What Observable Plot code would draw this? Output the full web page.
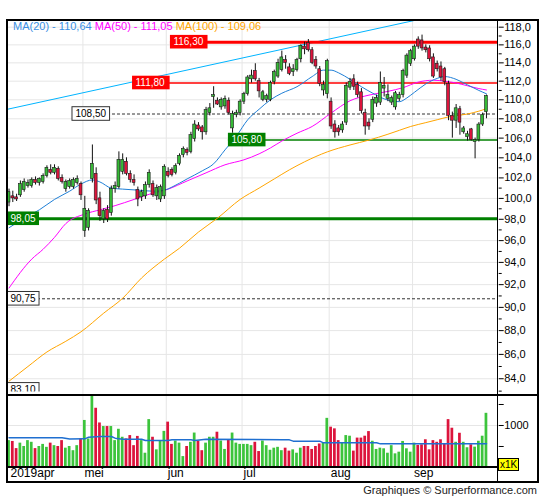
<!DOCTYPE html>
<html>
<head>
<meta charset="utf-8">
<script src="https://cdn.jsdelivr.net/npm/d3@7"></script>
<script src="https://cdn.jsdelivr.net/npm/@observablehq/plot@0.6"></script>
<style>
  body { margin: 0; background: #fff; }
  #wrap { position: relative; width: 545px; height: 500px; font-family: "Liberation Sans", Arial, sans-serif; color: #000; }
  #wrap svg { position: absolute; left: 0; }
  .ln { position: absolute; background: #000; }
  #legend { position: absolute; left: 13px; top: 20px; font-size: 11px; white-space: pre; }
  #caption { position: absolute; right: 8px; top: 484px; font-size: 11px; color: #222; }
  #x1k { position: absolute; left: 498px; top: 457.5px; width: 19px; height: 11.5px; background: #ffff00; border: 1px solid #000; font-size: 10px; line-height: 11.5px; text-align: center; }
</style>
</head>
<body>
<div id="wrap"></div>
<script>
// ---------- DATA ----------
const open = [99.6,100.2,100.1,100.3,100.8,101.2,101.2,101.8,101.5,101.6,102.2,102.8,102.5,102.9,102.0,100.9,101.1,101.1,101.5,101.4,
  96.9,97.2,101.9,102.4,100.0,98.0,98.9,98.6,100.9,101.1,102.6,103.6,102.4,101.8,100.8,100.1,100.2,101.3,101.4,100.2,99.9,100.2,
  102.6,102.8,102.5,103.4,104.3,104.8,104.6,105.9,107.3,107.1,106.6,108.6,110.3,109.9,109.2,109.3,109.9,107.0,108.4,108.6,
  109.8,110.6,112.2,113.1,112.0,110.0,110.0,110.0,111.9,112.5,113.2,114.3,113.5,113.0,113.2,114.4,115.8,116.2,115.4,114.3,113.3,111.0,110.6,
  109.8,107.4,107.0,106.8,107.6,111.3,112.2,111.6,110.8,108.6,107.6,107.9,109.6,109.7,111.2,110.1,109.7,109.2,110.1,110.5,112.6,113.9,
  114.4,116.6,116.5,115.7,115.6,114.6,113.9,113.6,113.3,111.7,108.3,107.8,109.0,106.6,106.1,106.9,105.6,105.8,107.4,108.7];
const high = [100.9,100.7,100.4,101.7,101.9,101.8,102.0,102.1,102.0,102.4,103.2,103.3,103.3,103.1,102.3,101.8,101.9,102.0,102.2,101.6,
  100.2,99.0,105.3,103.0,100.6,99.0,99.3,101.2,101.6,104.6,104.4,104.0,102.7,102.3,101.1,100.8,101.6,102.8,101.7,101.3,101.3,103.3,
  103.0,103.0,103.4,104.4,105.1,105.0,106.6,107.8,107.6,107.3,109.2,109.6,111.4,110.2,110.2,110.4,110.2,108.8,108.9,110.0,
  110.8,112.6,113.2,113.9,112.3,111.0,110.6,112.0,113.2,114.4,115.3,114.8,113.9,113.8,114.5,116.0,116.3,116.6,115.7,114.7,113.6,112.0,114.4,
  110.2,107.8,107.3,107.7,111.8,112.3,112.7,111.9,111.2,109.0,108.0,110.3,110.5,113.0,112.4,111.6,110.4,110.9,110.8,113.3,115.0,115.5,
  116.0,116.9,117.1,116.0,115.9,115.0,114.2,114.1,113.5,112.0,108.7,109.5,109.3,107.2,106.7,107.0,106.0,107.6,108.6,110.5];
const low = [99.2,99.6,99.7,100.1,100.6,101.0,101.0,101.3,101.2,101.4,102.0,102.3,102.3,101.7,101.4,100.6,100.9,100.9,101.3,99.8,
  96.3,96.9,101.5,99.4,97.8,97.6,97.7,98.3,100.5,100.9,102.3,102.2,101.5,101.2,99.2,99.7,99.9,101.0,100.1,99.8,99.6,99.9,
  102.0,102.1,102.3,103.2,104.0,104.2,104.4,105.6,106.7,105.8,106.3,108.3,109.1,109.4,108.9,109.0,108.4,106.5,108.1,108.3,
  109.5,110.4,111.8,112.0,110.2,109.8,109.7,109.8,111.6,112.3,113.0,113.3,112.6,112.5,113.0,114.0,114.9,115.2,113.8,113.3,111.4,110.4,110.1,
  106.9,106.0,106.2,106.5,107.3,111.0,111.0,110.2,108.5,106.3,106.8,107.6,109.2,109.4,110.3,109.8,109.4,108.9,109.8,110.2,112.3,113.6,
  114.2,115.5,115.3,115.1,114.1,112.3,113.0,112.0,111.5,107.8,106.0,107.0,106.3,106.4,105.7,105.7,103.9,105.6,107.2,108.0];
const close = [100.6,100.0,99.9,101.4,101.6,101.5,101.8,101.5,101.9,102.2,103.0,102.5,103.0,101.9,101.6,101.6,101.7,101.8,101.9,100.3,
  99.0,98.8,103.4,99.8,98.3,98.8,98.0,100.9,101.2,103.8,103.8,102.4,101.8,101.5,99.9,100.6,101.3,102.5,100.3,101.0,101.1,103.1,
  102.2,102.3,103.2,104.2,104.9,104.5,106.3,107.4,106.9,106.6,108.9,109.1,110.5,109.5,110.0,110.1,108.6,108.5,108.6,109.8,
  110.6,112.4,112.6,112.2,110.9,110.8,110.4,111.8,113.0,114.0,114.6,114.0,112.8,113.3,114.3,115.9,115.5,115.4,114.0,113.6,111.7,111.6,114.2,
  107.2,106.6,106.6,107.4,111.5,111.9,111.4,110.5,108.8,107.2,107.2,110.0,110.2,111.8,111.5,110.5,110.2,110.7,110.5,113.1,114.8,115.3,
  115.8,115.8,115.6,115.4,114.4,112.5,113.3,112.4,111.9,108.3,107.8,109.1,107.6,107.0,106.4,105.8,105.8,107.4,108.4,110.4];
const volume = [640,620,450,580,500,640,600,450,500,550,480,580,520,500,640,460,500,400,520,680,
  1120,680,1700,1410,1060,975,975,975,640,910,720,680,760,520,740,640,340,1140,720,420,640,860,
  1080,550,630,580,260,500,600,820,630,400,580,720,720,840,630,430,660,820,580,550,
  550,550,520,600,380,630,520,410,460,480,400,460,390,420,340,460,500,500,430,500,560,580,1170,
  960,920,640,590,760,745,390,700,700,745,855,625,430,460,445,340,520,325,365,620,445,365,
  580,525,540,660,420,640,600,660,565,1140,935,600,815,600,470,540,485,625,745,1290];

// moving averages read at sampled candles: [candle index, value]
const ma20 = [[0,97.2],[4,98.1],[8,98.9],[12,99.9],[16,100.7],[19,101.4],[22,101.8],[24,101.6],[27,101.0],[30,100.9],[34,100.8],[38,100.7],[41,100.8],[43,101.1],[47,101.9],[51,102.7],[54,103.4],[57,104.8],[60,106.2],[63,107.9],[66,109.0],[69,110.0],[72,110.7],[76,111.4],[80,112.5],[83,113.2],[85,113.2],[87,112.9],[90,112.2],[93,111.4],[96,110.7],[99,110.1],[103,109.8],[105,110.2],[107,110.8],[110,111.7],[113,112.3],[115,112.5],[118,112.2],[121,111.6],[124,111.0],[126,110.64]];
const ma50 = [[0,91.7],[6,94.3],[9,95.2],[12,96.3],[15,97.6],[20,98.5],[24,98.9],[28,99.3],[33,99.9],[37,100.4],[42,100.9],[47,101.7],[52,102.5],[57,103.3],[62,103.8],[66,104.4],[69,105.0],[72,105.7],[76,106.5],[80,107.2],[85,108.6],[90,109.9],[95,110.5],[100,110.9],[104,111.3],[108,111.9],[112,112.1],[115,112.0],[118,111.8],[121,111.5],[124,111.2],[126,111.05]];
const ma100 = [[0,83.8],[5,85.0],[10,86.2],[15,87.1],[19,87.9],[25,89.5],[30,90.8],[35,92.6],[41,94.3],[45,95.3],[50,96.8],[55,98.1],[61,99.9],[66,101.0],[70,101.9],[74,102.8],[78,103.6],[84,104.6],[90,105.3],[95,105.8],[100,106.4],[103,106.8],[106,107.2],[110,107.6],[113,107.9],[116,108.2],[121,108.5],[124,108.8],[126,109.06]];
const volMA = [[0,706],[14,706],[16,680],[20,682],[21,722],[24,738],[27,738],[28,698],[30,674],[35,674],[36,642],[42,642],[43,658],[48,658],[49,642],[52,674],[72,660],[74,658],[75,627],[82,627],[83,587],[97,587],[98,563],[126,563]];
const trendLine = [[-0.4,109.0],[107.3,118.8]];

const levelValues = [116.30, 111.80, 108.50, 105.80, 98.05, 90.75, 83.10];
const levelTexts = ["116,30", "111,80", "108,50", "105,80", "98,05", "90,75", "83,10"];
const maLegend = ["MA(20) - 110,64", "MA(50) - 111,05", "MA(100) - 109,06"];
const monthStarts = [0, 19.5, 41.5, 61.5, 84.5, 106.5];
const monthNames = ["2019apr", "mei", "jun", "jul", "aug", "sep"];
const priceTicks = d3.range(84, 119, 2);
const priceMinorTicks = d3.range(83, 119, 2);
const volTicks = [500, 1000, 1500];

// ---------- LAYOUT / STYLE ----------
const FONT = "Liberation Sans, Arial, sans-serif";
const XDOM = [-0.4, 129.1];
const UP = "#36b936", DOWN = "#dc143c", VUP = "#3cc43c";
const levelStyle = [
  {stroke: "#ff0000", width: 3, fill: "#ff0000", ink: "#fff", at: 42.6},
  {stroke: "#ff0000", width: 1.3, fill: "#ff0000", ink: "#fff", at: 32.6},
  {stroke: "#333", width: 1, dashed: true, fill: "#fff", ink: "#000", box: "#333", at: 16.75},
  {stroke: "#008000", width: 1.6, fill: "#008000", ink: "#fff", at: 57.9},
  {stroke: "#008000", width: 3, fill: "#008000", ink: "#fff", at: -0.4},
  {stroke: "#333", width: 1, dashed: true, fill: "#fff", ink: "#000", box: "#333", at: -0.4},
  {stroke: "none", width: 0, fill: "#fff", ink: "#000", box: "#333", at: -0.4}
];
const levels = levelValues.map((v, k) => ({value: v, label: levelTexts[k], ...levelStyle[k]}));
const candles = close.map((c, i) => ({i, o: open[i], h: high[i], l: low[i], c, v: volume[i], up: c >= open[i]}));

function textWidth(s) { // Liberation Sans 10px
  let w = 0;
  for (const ch of s) w += (ch === "," ? 2.78 : 5.56);
  return w;
}

let clipId = 0;
const boxes = (index, scales, values, dims) => {
  const id = "lvlclip" + (clipId++);
  const g = d3.create("svg:g").attr("font-family", FONT).attr("font-size", 10).attr("text-anchor", "start");
  g.append("clipPath").attr("id", id).append("rect")
    .attr("x", 0).attr("y", dims.marginTop)
    .attr("width", dims.width).attr("height", dims.height - dims.marginTop - dims.marginBottom - 3.5);
  const inner = g.append("g").attr("clip-path", `url(#${id})`);
  for (const L of levels) {
    const x0 = scales.x(L.at), y0 = scales.y(L.value);
    const w = textWidth(L.label) + 7;
    inner.append("rect").attr("x", x0).attr("y", y0 - 6.8).attr("width", w).attr("height", 13.6)
      .attr("fill", L.fill).attr("stroke", L.box || "none").attr("stroke-width", 1);
    inner.append("text").attr("x", x0 + 3.5).attr("y", y0).attr("dy", "0.36em")
      .attr("text-anchor", "start").attr("fill", L.ink).text(L.label);
  }
  return g.node();
};

const solidLevels = levels.filter(d => d.width > 0 && !d.dashed);
const dashedLevels = levels.filter(d => d.dashed);

const priceChart = Plot.plot({
  width: 545, height: 395,
  marginLeft: 7, marginRight: 47.3, marginTop: 19, marginBottom: 0,
  x: {domain: XDOM, axis: null},
  y: {type: "log", domain: [82.65, 118.88], axis: null},
  style: {fontFamily: FONT, fontSize: "11px", background: "transparent", overflow: "visible", color: "#000"},
  marks: [
    Plot.ruleY(priceTicks, {stroke: "#e6e6e6", strokeWidth: 1}),
    Plot.ruleX(monthStarts.slice(1), {stroke: "#e6e6e6", strokeWidth: 1}),
    Plot.line(trendLine, {x: d => d[0], y: d => d[1], stroke: "#00b4ff", strokeWidth: 1, clip: true}),
    Plot.ruleY(solidLevels, {y: "value", x1: "at", x2: () => XDOM[1], stroke: "stroke", strokeWidth: "width"}),
    Plot.ruleY(dashedLevels, {y: "value", x1: "at", x2: () => XDOM[1], stroke: "#333", strokeWidth: 1, strokeDasharray: "3,2"}),
    Plot.line(ma100, {x: d => d[0], y: d => d[1], stroke: "#ffa500", strokeWidth: 1, curve: "monotone-x", clip: true}),
    Plot.line(ma50, {x: d => d[0], y: d => d[1], stroke: "#ff00ff", strokeWidth: 1, curve: "monotone-x", clip: true}),
    Plot.line(ma20, {x: d => d[0], y: d => d[1], stroke: "#1f7fd6", strokeWidth: 1, curve: "monotone-x", clip: true}),
    Plot.ruleX(candles, {x: "i", y1: "l", y2: "h", stroke: "#111", strokeWidth: 1}),
    Plot.rect(candles, {x1: d => d.i - 0.38, x2: d => d.i + 0.38, y1: "o", y2: "c",
      fill: d => d.up ? UP : DOWN, stroke: "#1a1a1a", strokeWidth: 0.6}),
    boxes,
    Plot.axisY({anchor: "right", ticks: priceTicks, tickSize: 5, tickPadding: 1, fontSize: 11,
      tickFormat: d => d.toFixed(1).replace(".", ","), label: null}),
    Plot.axisY({anchor: "right", ticks: priceMinorTicks, tickSize: 3, tickFormat: () => "", label: null})
  ]
});

const volChart = Plot.plot({
  width: 545, height: 87,
  marginLeft: 7, marginRight: 47.3, marginTop: 0, marginBottom: 15,
  x: {domain: XDOM, axis: null},
  y: {domain: [0, 1714], axis: null},
  style: {fontFamily: FONT, fontSize: "11px", background: "transparent", overflow: "visible", color: "#000"},
  marks: [
    Plot.ruleY([1000], {stroke: "#e6e6e6"}),
    Plot.ruleX(monthStarts.slice(1), {stroke: "#e6e6e6"}),
    Plot.rect(candles, {x1: d => d.i - 0.36, x2: d => d.i + 0.36, y1: () => 0, y2: "v",
      fill: d => d.up ? VUP : DOWN}),
    Plot.line(volMA, {x: d => d[0], y: d => d[1], stroke: "#1f6fd0", strokeWidth: 1.5}),
    Plot.axisY({anchor: "right", ticks: volTicks, tickSize: 5, tickPadding: 1, fontSize: 11,
      tickFormat: d => d === 1000 ? "1000" : "", label: null}),
    Plot.axisX({anchor: "bottom", ticks: monthStarts, tickSize: 0, tickPadding: 1, fontSize: 12,
      textAnchor: "start", dx: 1.5, label: null,
      tickFormat: d => monthNames[monthStarts.indexOf(d)]})
  ]
});

const wrap = document.getElementById("wrap");
priceChart.style.top = "0px";
volChart.style.top = "395px";
wrap.appendChild(priceChart);
wrap.appendChild(volChart);

function line(l, t, w, h) {
  const d = document.createElement("div");
  d.className = "ln";
  Object.assign(d.style, {left: l + "px", top: t + "px", width: w + "px", height: h + "px"});
  wrap.appendChild(d);
}
line(6, 19, 533, 1.8);      // top
line(6, 19, 1.6, 464);      // left
line(537.2, 19, 1.6, 464);  // right
line(6, 481.4, 533, 1.8);   // bottom
line(496.9, 19, 1.6, 464);  // plot right edge
line(6, 394.4, 533, 1.8);   // panel separator
line(6, 466.4, 492, 1.8);   // x axis

const legend = document.createElement("div");
legend.id = "legend";
const legColors = ["#3a8fe4", "#ff00ff", "#ffa500"];
maLegend.forEach((t, k) => {
  const s = document.createElement("span");
  s.style.color = legColors[k];
  s.textContent = (k ? " " : "") + t;
  legend.appendChild(s);
});
wrap.appendChild(legend);

const x1k = document.createElement("div");
x1k.id = "x1k"; x1k.textContent = "x1K";
wrap.appendChild(x1k);

const cap = document.createElement("div");
cap.id = "caption"; cap.textContent = "Graphiques © Surperformance.com";
wrap.appendChild(cap);
</script>
</body>
</html>
